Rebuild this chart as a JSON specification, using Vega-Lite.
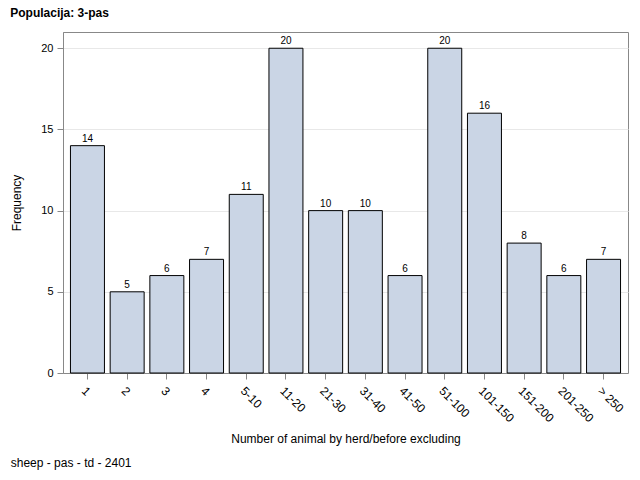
{
  "$schema": "https://vega.github.io/schema/vega-lite/v6.json",
  "padding": {"left": 10, "top": 6, "right": 5, "bottom": 5},
  "background": "white",
  "title": {"text": "Populacija: 3-pas", "anchor": "start", "fontSize": 12, "fontWeight": "bold", "font": "Liberation Sans", "color": "black", "offset": 12},
  "config": {"view": {"stroke": "#888888"}, "font": "Liberation Sans"},
  "vconcat": [
    {
      "width": 565,
      "height": 341,
      "title": {"text": "sheep - pas - td - 2401", "orient": "bottom", "anchor": "start", "fontSize": 12, "fontWeight": "normal", "font": "Liberation Sans", "color": "black", "offset": 13},
      "data": {"values": [
        {"cat": "1", "n": 14},
        {"cat": "2", "n": 5},
        {"cat": "3", "n": 6},
        {"cat": "4", "n": 7},
        {"cat": "5-10", "n": 11},
        {"cat": "11-20", "n": 20},
        {"cat": "21-30", "n": 10},
        {"cat": "31-40", "n": 10},
        {"cat": "41-50", "n": 6},
        {"cat": "51-100", "n": 20},
        {"cat": "101-150", "n": 16},
        {"cat": "151-200", "n": 8},
        {"cat": "201-250", "n": 6},
        {"cat": "> 250", "n": 7}
      ]},
      "encoding": {
        "x": {"field": "cat", "type": "nominal", "sort": null,
          "scale": {"paddingInner": 0.144, "paddingOuter": 0.188},
          "axis": {"title": "Number of animal by herd/before excluding", "labelAngle": 45, "labelAlign": "left", "labelBaseline": "top", "labelFontSize": 12, "labelColor": "black", "titleFontSize": 12, "titleFontWeight": "normal", "titleColor": "black", "domainColor": "#888888", "tickColor": "#888888", "tickSize": 6, "labelPadding": 6, "titlePadding": 10}},
        "y": {"field": "n", "type": "quantitative",
          "scale": {"domain": [0, 21], "nice": false},
          "axis": {"title": "Frequency", "values": [0, 5, 10, 15, 20], "grid": true, "gridColor": "#E8E8E8", "domainColor": "#888888", "tickColor": "#888888", "tickSize": 6, "labelFontSize": 11, "labelColor": "black", "labelPadding": 4, "titleFontSize": 12, "titleFontWeight": "normal", "titleColor": "black", "titlePadding": 17}}
      },
      "layer": [
        {"mark": {"type": "bar", "fill": "#CAD5E5", "stroke": "#000000", "strokeWidth": 1}},
        {"mark": {"type": "text", "baseline": "alphabetic", "dy": -4, "fontSize": 10, "color": "black"}, "encoding": {"text": {"field": "n", "type": "quantitative"}}}
      ]
    }
  ]
}
